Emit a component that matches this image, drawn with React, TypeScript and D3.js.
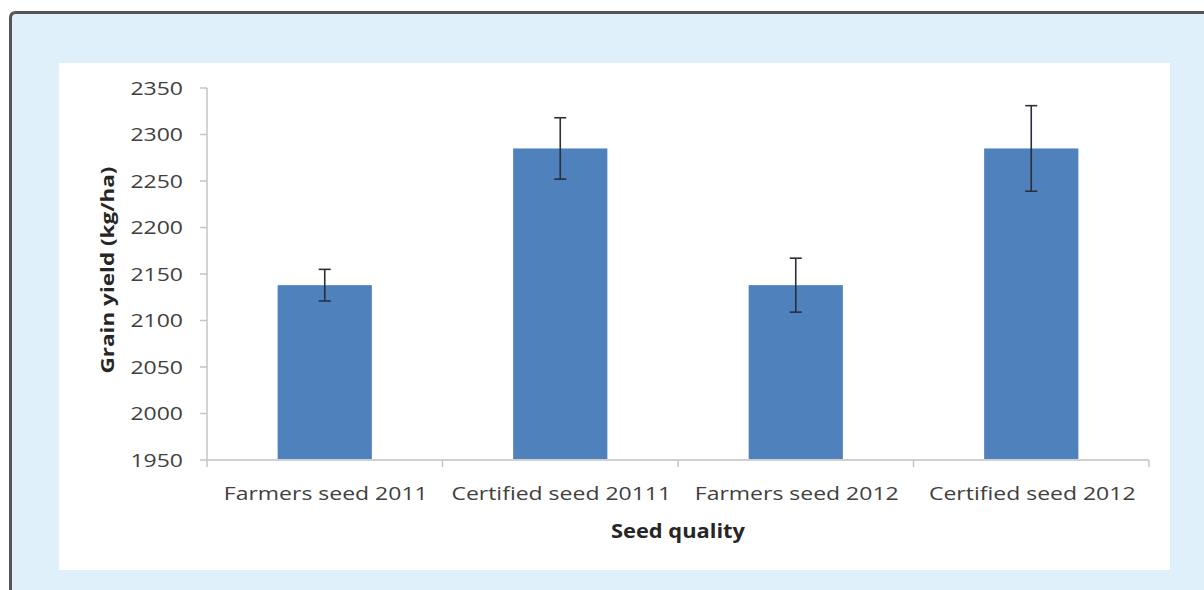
import React from "react";
import * as d3 from "d3";

const categories = ["Farmers seed 2011", "Certified seed 20111", "Farmers seed 2012", "Certified seed 2012"];
const yieldValues = [2138, 2285, 2138, 2285];
const errorValues = [17, 33, 29, 46];
const yTicks = [1950, 2000, 2050, 2100, 2150, 2200, 2250, 2300, 2350];

const W = 1204;
const H = 590;
const FONT = "'Open Sans', 'Liberation Sans', sans-serif";
const SX = 1.21;

export default function App() {
  const x = d3.scaleBand<string>().domain(categories).range([207, 1149]).paddingInner(0).paddingOuter(0);
  const y = d3.scaleLinear().domain([1950, 2350]).range([460, 88]);
  const bw = x.bandwidth() * 0.4;
  const boundaries = d3.range(categories.length + 1).map((i) => 207 + i * x.bandwidth());

  return (
    <svg width={W} height={H} style={{ position: "absolute", left: 0, top: 0 }} fontFamily={FONT}>
      <rect x={0} y={0} width={W} height={H} fill="#ffffff" />
      <rect x={10.5} y={12.5} width={W + 20} height={H + 20} rx={6} fill="#e0f0fb" />
      <path d={`M10.5,${H + 5} L10.5,18 Q10.5,12.5 16,12.5 L${W + 5},12.5`} fill="none" stroke="#555" strokeWidth={3} />
      <rect x={59} y={63} width={1111} height={507} fill="#ffffff" />

      {/* y axis */}
      <line x1={207} x2={207} y1={y(2350)} y2={y(1950)} stroke="#c4c4c4" strokeWidth={1.5} />
      {yTicks.map((t) => (
        <g key={t}>
          <line x1={200} x2={207} y1={y(t)} y2={y(t)} stroke="#c4c4c4" strokeWidth={1.5} />
          <text transform={`translate(183,${y(t)}) scale(${SX},1)`} dy="0.36em" textAnchor="end" fontSize={19} fill="#404040">
            {t}
          </text>
        </g>
      ))}

      {/* bars */}
      {categories.map((c, i) => {
        const cx = (x(c) as number) + x.bandwidth() / 2;
        return (
          <rect key={c} x={cx - bw / 2} y={y(yieldValues[i])} width={bw} height={y(1950) - y(yieldValues[i])} fill="#4f81bd" />
        );
      })}

      {/* x axis */}
      <line x1={207} x2={1149} y1={460} y2={460} stroke="#d0d0d0" strokeWidth={2} />
      {boundaries.map((b, i) => (
        <line key={i} x1={b} x2={b} y1={460} y2={467} stroke="#c4c4c4" strokeWidth={1.5} />
      ))}

      {/* error bars */}
      {categories.map((c, i) => {
        const cx = (x(c) as number) + x.bandwidth() / 2;
        const hi = y(yieldValues[i] + errorValues[i]);
        const lo = y(yieldValues[i] - errorValues[i]);
        return (
          <g key={c} stroke="#2a2f3a" strokeWidth={1.6}>
            <line x1={cx} x2={cx} y1={hi} y2={lo} />
            <line x1={cx - 6} x2={cx + 6} y1={hi} y2={hi} />
            <line x1={cx - 6} x2={cx + 6} y1={lo} y2={lo} />
          </g>
        );
      })}

      {categories.map((c) => (
        <text
          key={c}
          transform={`translate(${(x(c) as number) + x.bandwidth() / 2 + 1},500) scale(${SX},1)`}
          textAnchor="middle"
          fontSize={19}
          fill="#404040"
        >
          {c}
        </text>
      ))}

      <text transform={`translate(678,538) scale(1.15,1)`} textAnchor="middle" fontSize={19} fontWeight="bold" fill="#262626">
        Seed quality
      </text>
      <text transform={`translate(114,270) rotate(-90) scale(1.25,1)`} textAnchor="middle" fontSize={18} fontWeight="bold" fill="#262626">
        Grain yield (kg/ha)
      </text>
    </svg>
  );
}
